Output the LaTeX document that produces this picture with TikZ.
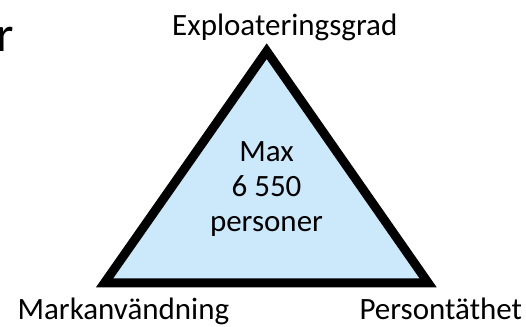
\documentclass[tikz,border=0pt]{standalone}
\usepackage{fontspec}
\setmainfont{Carlito}
\definecolor{trifill}{RGB}{204,233,252}
\begin{document}
\begin{tikzpicture}[x=1pt,y=-1pt,
  lbl/.style={inner sep=0pt,anchor=base,font=\fontsize{31}{35}\selectfont,text=black},
  tri/.style={draw=black,line width=9pt,fill=trifill,line join=miter,miter limit=10}]
\useasboundingbox (0,0) rectangle (526,326);
\coordinate (apex) at (266.7,51.2);
\coordinate (bl) at (104.6,282.8);
\coordinate (br) at (428.1,282.8);
\draw[tri] (apex) -- (br) -- (bl) -- cycle;
\node[lbl] (top) at (284.8,36) {Exploateringsgrad};
\node[lbl] (left) at (123.4,319.6) {Markanvändning};
\node[lbl] (right) at (440.8,319.6) {Persontäthet};
\node[lbl] (c1) at (266.5,161.7) {Max};
\node[lbl] (c2) at (266.5,196.7) {6 550};
\node[lbl] (c3) at (266.5,231.7) {personer};
\node[inner sep=0pt,anchor=base west,font=\fontsize{50}{56}\selectfont] (frag) at (-4,51.7) {r};
\end{tikzpicture}
\end{document}
